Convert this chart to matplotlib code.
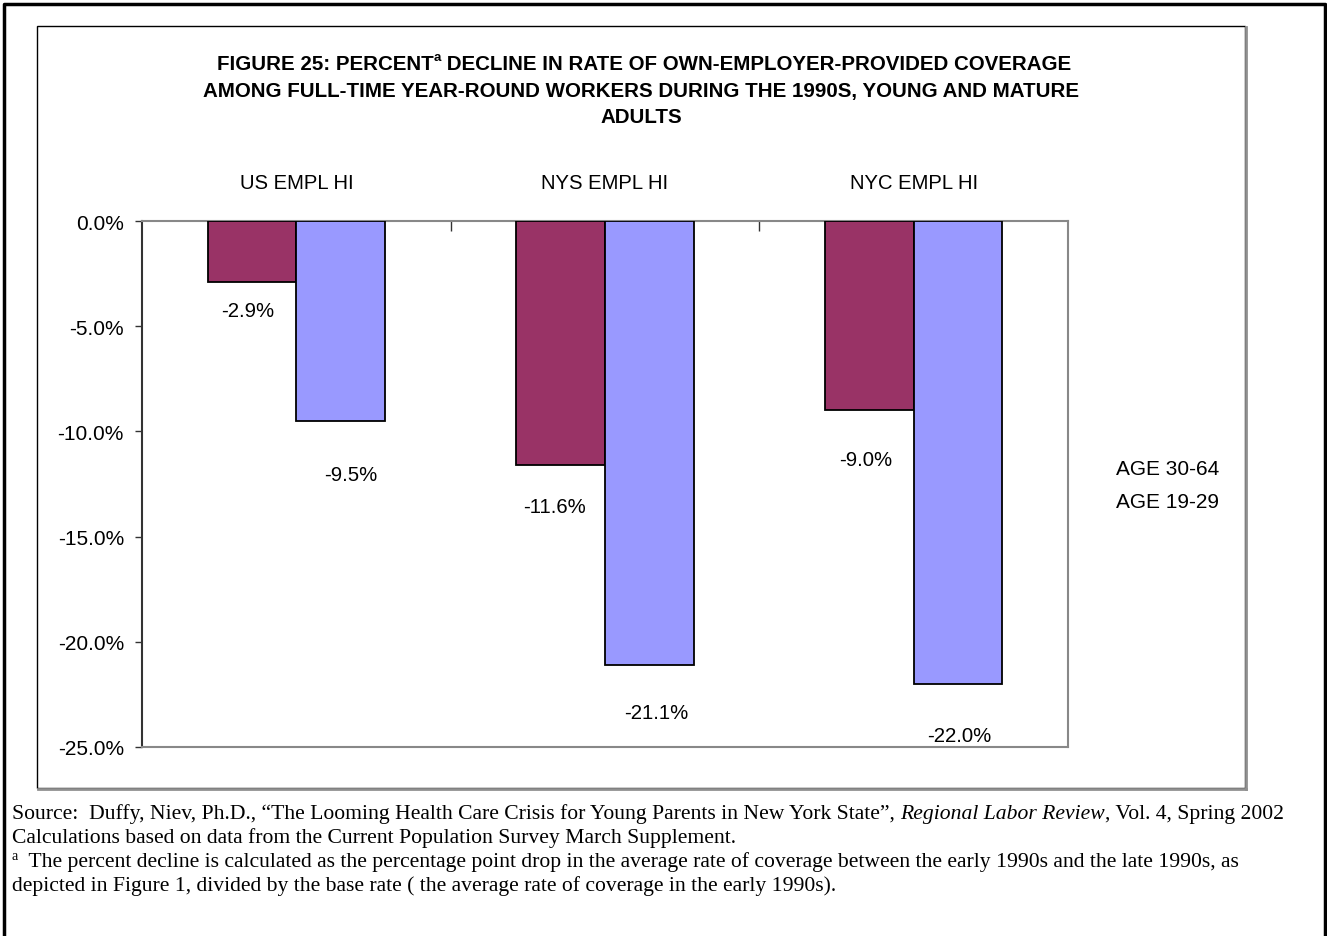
import matplotlib
matplotlib.use("Agg")
import matplotlib.pyplot as plt
from matplotlib.patches import Rectangle
from matplotlib.lines import Line2D
from matplotlib.ticker import FixedLocator, FuncFormatter

# ---------------- data ----------------
categories = ["US EMPL HI", "NYS EMPL HI", "NYC EMPL HI"]
series_names = ["AGE 30-64", "AGE 19-29"]
age_30_64 = [-2.9, -11.6, -9.0]
age_19_29 = [-9.5, -21.1, -22.0]
y_ticks = [0, -5, -10, -15, -20, -25]

title_lines = [
    ("FIGURE 25: PERCENT", "a", " DECLINE IN RATE OF OWN-EMPLOYER-PROVIDED COVERAGE"),
    "AMONG FULL-TIME YEAR-ROUND WORKERS DURING THE 1990S, YOUNG AND MATURE",
    "ADULTS",
]

# ---------------- style ----------------
maroon = "#993366"
lavender = "#9999FF"
W, H = 1327, 937
DPI = 100
# per-label vertical offset (px below bar end) and horizontal offset (px)
lbl_dy_a = [28, 41, 49]
lbl_dx_a = [-4, -6, -4]
lbl_dy_b = [54, 48, 52]
lbl_dx_b = [10, 7, 1]

plt.rcParams["font.family"] = ["Liberation Sans", "DejaVu Sans"]

fig = plt.figure(figsize=(W / DPI, H / DPI), dpi=DPI)
fig.patch.set_facecolor("white")

def fx(px):
    return px / W

def fy(py):
    return 1 - py / H

# outer border (left, top, right)
fig.add_artist(Line2D([fx(4), fx(4), fx(1325), fx(1325)],
                      [0, fy(5), fy(5), 0], color="black", lw=2.5,
                      transform=fig.transFigure))
# inner chart frame with gray shadow
fig.add_artist(Line2D([fx(1246), fx(1246)], [fy(28), fy(790)], color="#909090",
                      lw=2, transform=fig.transFigure))
fig.add_artist(Line2D([fx(38), fx(1246)], [fy(790), fy(790)], color="#909090",
                      lw=2, transform=fig.transFigure))
fig.add_artist(Rectangle((fx(37), fy(789)), fx(1245) - fx(37), fy(27) - fy(789),
                         fill=False, edgecolor="black", lw=1,
                         transform=fig.transFigure))

# axes
ax = fig.add_axes([fx(142), fy(748), fx(1068) - fx(142), fy(222) - fy(748)])
x = list(range(len(categories)))
bw = 0.287
bars_a = ax.bar([i - bw / 2 for i in x], age_30_64, width=bw, color=maroon,
                edgecolor="black", lw=1.3, label=series_names[0], zorder=3)
bars_b = ax.bar([i + bw / 2 for i in x], age_19_29, width=bw, color=lavender,
                edgecolor="black", lw=1.3, label=series_names[1], zorder=3)

ax.set_xlim(-0.5, len(categories) - 0.5)
ax.set_ylim(min(y_ticks), max(y_ticks))
ax.yaxis.set_major_locator(FixedLocator(y_ticks))
ax.yaxis.set_major_formatter(FuncFormatter(lambda v, p: f"{v:.1f}%"))
ax.tick_params(axis="y", direction="out", length=5, width=1, color="#333333",
               labelsize=15, pad=8)

ax.xaxis.tick_top()
ax.set_xticks([i + 0.5 for i in x[:-1]])
ax.set_xticklabels([])
ax.set_xticks(x, minor=True)
ax.set_xticklabels(categories, minor=True)
ax.tick_params(axis="x", which="major", direction="in", length=7, width=1,
               color="#333333")
ax.tick_params(axis="x", which="minor", length=0, labelsize=14.6, pad=21)

for s in ["top", "right", "bottom"]:
    ax.spines[s].set_color("#888888")
    ax.spines[s].set_linewidth(1.5)
ax.spines["left"].set_color("#333333")
ax.spines["left"].set_linewidth(1.5)

def label_bars(bars, vals, dys, dxs):
    for b, v, dy, dx in zip(bars, vals, dys, dxs):
        ax.annotate(f"{v:.1f}%", (b.get_x() + b.get_width() / 2, v),
                    xytext=(dx * 72 / DPI, -dy * 72 / DPI),
                    textcoords="offset points", ha="center", va="center",
                    fontsize=14.7)

label_bars(bars_a, age_30_64, lbl_dy_a, lbl_dx_a)
label_bars(bars_b, age_19_29, lbl_dy_b, lbl_dx_b)

leg = ax.legend(handles=[Rectangle((0, 0), 0, 0, visible=False),
                         Rectangle((0, 0), 0, 0, visible=False)],
                labels=series_names, loc="center left",
                bbox_to_anchor=(fx(1106), fy(486)), bbox_transform=fig.transFigure,
                frameon=False, handlelength=0, handletextpad=0, fontsize=15,
                labelspacing=0.68, borderpad=0)

# title
renderer = fig.canvas.get_renderer()
cx = fx(641)
tprops = dict(fontsize=14.8, fontweight="bold", va="center")
p1, sup, p2 = title_lines[0]
t1 = fig.text(0, fy(64), p1, ha="left", **tprops)
ts = fig.text(0, fy(58), sup, ha="left", fontsize=9.5, fontweight="bold", va="center")
t2 = fig.text(0, fy(64), p2, ha="left", **tprops)
w1 = t1.get_window_extent(renderer).width
ws = ts.get_window_extent(renderer).width
w2 = t2.get_window_extent(renderer).width
start = 644 - (w1 + ws + w2) / 2
t1.set_x(fx(start))
ts.set_x(fx(start + w1))
t2.set_x(fx(start + w1 + ws))
fig.text(cx, fy(91), title_lines[1], ha="center", **tprops)
fig.text(cx, fy(118), title_lines[2], ha="center", **tprops)

# footnotes
serif = ["Liberation Serif", "DejaVu Serif"]
fs = 15.6

def run(pieces, x0, ypx):
    xpos = x0
    for txt, style, size, dy in pieces:
        t = fig.text(fx(xpos), fy(ypx + dy), txt, ha="left", va="center",
                     family=serif, fontsize=size, style=style)
        xpos += t.get_window_extent(renderer).width

run([("Source:  Duffy, Niev, Ph.D., \u201cThe Looming Health Care Crisis for Young Parents in New York State\u201d, ", "normal", fs, 0),
     ("Regional Labor Review", "italic", fs, 0),
     (", Vol. 4, Spring 2002", "normal", fs, 0)], 12, 814)
run([("Calculations based on data from the Current Population Survey March Supplement.", "normal", fs, 0)], 12, 838)
run([("a", "normal", 10, -5),
     ("  The percent decline is calculated as the percentage point drop in the average rate of coverage between the early 1990s and the late 1990s, as", "normal", fs, 0)], 12, 862)
run([("depicted in Figure 1, divided by the base rate ( the average rate of coverage in the early 1990s).", "normal", fs, 0)], 12, 886)

fig.savefig("out.png", dpi=DPI, facecolor="white")
